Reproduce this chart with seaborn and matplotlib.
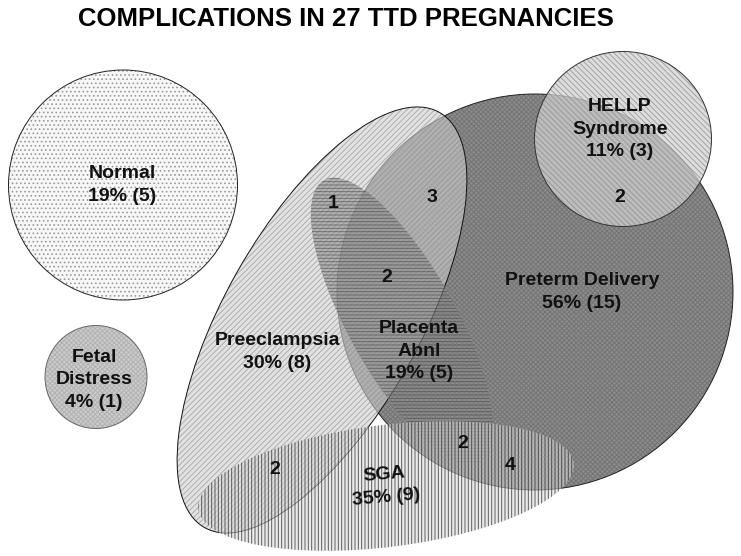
import matplotlib
matplotlib.use("Agg")
import matplotlib.pyplot as plt
from matplotlib.patches import Ellipse
import seaborn as sns

# ---------------- data ----------------
title = "COMPLICATIONS IN 27 TTD PREGNANCIES"
groups = ["Preterm Delivery", "Preeclampsia", "Placenta Abnl", "SGA",
          "HELLP Syndrome", "Normal", "Fetal Distress"]
group_lines = ["Preterm Delivery", "Preeclampsia", "Placenta\nAbnl", "SGA",
               "HELLP\nSyndrome", "Normal", "Fetal\nDistress"]
counts = [15, 8, 5, 9, 3, 5, 1]
percents = [56, 30, 19, 35, 11, 19, 4]
region_counts = [1, 3, 2, 2, 2, 4, 2]

# ---------------- layout (pixel space) ----------------
shape_center = [(535, 292), (322, 320), (402, 321), (386, 486),
                (623, 139), (123, 185), (96, 377)]
shape_size = [(396, 396), (477, 195), (322, 108), (378, 122),
              (177, 175), (229, 230), (102, 103)]
shape_angle = [0, -60.5, 61, -7, 0, 0, 0]
face = ["#8c8c8c", "#d0d0d0", "#8c8c8c", "#dcdcdc",
        "#d2d2d2", "#f7f7f7", "#cccccc"]
face_alpha = [1.0, 0.6, 0.55, 0.55, 0.75, 1.0, 1.0]
hatch = ["xxxxxxx", "//////", "-----", "|||||",
         "\\\\\\\\\\\\", "....", "xxxxxxx"]
hatch_color = ["#747474", "#8c8c8c", "#454545", "#2e2e2e",
               "#8e8e8e", "#9a9a9a", "#b2b2b2"]
hatch_alpha = [1.0, 0.6, 0.6, 0.75, 0.75, 1.0, 1.0]
edge = ["#222222", "#111111", None, None, "#333333", "#222222", "#666666"]
label_pos = [(582, 292), (277, 352), (419, 351), (385, 486),
             (620, 129), (122, 185), (94, 380)]
label_rot = [0, 0, 0, 5, 0, 0, 0]
region_pos = [(333, 203), (432, 198), (387, 277), (275, 470),
              (463, 443), (510, 465), (620, 197)]

# ---------------- drawing ----------------
sns.set_theme(style="white")
plt.rcParams["font.family"] = ["Liberation Sans", "DejaVu Sans"]
plt.rcParams["hatch.linewidth"] = 0.7

fig = plt.figure(figsize=(7.41, 5.56), dpi=100)
ax = fig.add_axes([0, 0, 1, 1])
ax.set_xlim(0, 741)
ax.set_ylim(556, 0)
ax.axis("off")

for i in range(len(groups)):
    c = shape_center[i]
    w, h = shape_size[i]
    a = shape_angle[i]
    z = 2 + i
    ax.add_patch(Ellipse(c, w, h, angle=a, facecolor=face[i], edgecolor="none",
                         lw=0, alpha=face_alpha[i], zorder=z))
    ax.add_patch(Ellipse(c, w, h, angle=a, facecolor="none", edgecolor=hatch_color[i],
                         hatch=hatch[i], lw=0, alpha=hatch_alpha[i], zorder=z + 0.1))
    if edge[i]:
        ax.add_patch(Ellipse(c, w, h, angle=a, facecolor="none", edgecolor=edge[i],
                             lw=0.7, zorder=z + 0.2))

for i in range(len(groups)):
    x, y = label_pos[i]
    txt = f"{group_lines[i]}\n{percents[i]}% ({counts[i]})"
    ax.text(x, y, txt, ha="center", va="center",
            fontsize=14, fontweight="bold", color="#111111",
            rotation=label_rot[i], zorder=20, linespacing=1.42)

for n, (x, y) in zip(region_counts, region_pos):
    ax.text(x, y, str(n), ha="center", va="center", fontsize=14,
            fontweight="bold", color="#111111", zorder=20)

ax.text(346, 19, title, ha="center", va="center", fontsize=18.5,
        fontweight="bold", color="#000000", zorder=20)

fig.savefig("out.png", dpi=100)
